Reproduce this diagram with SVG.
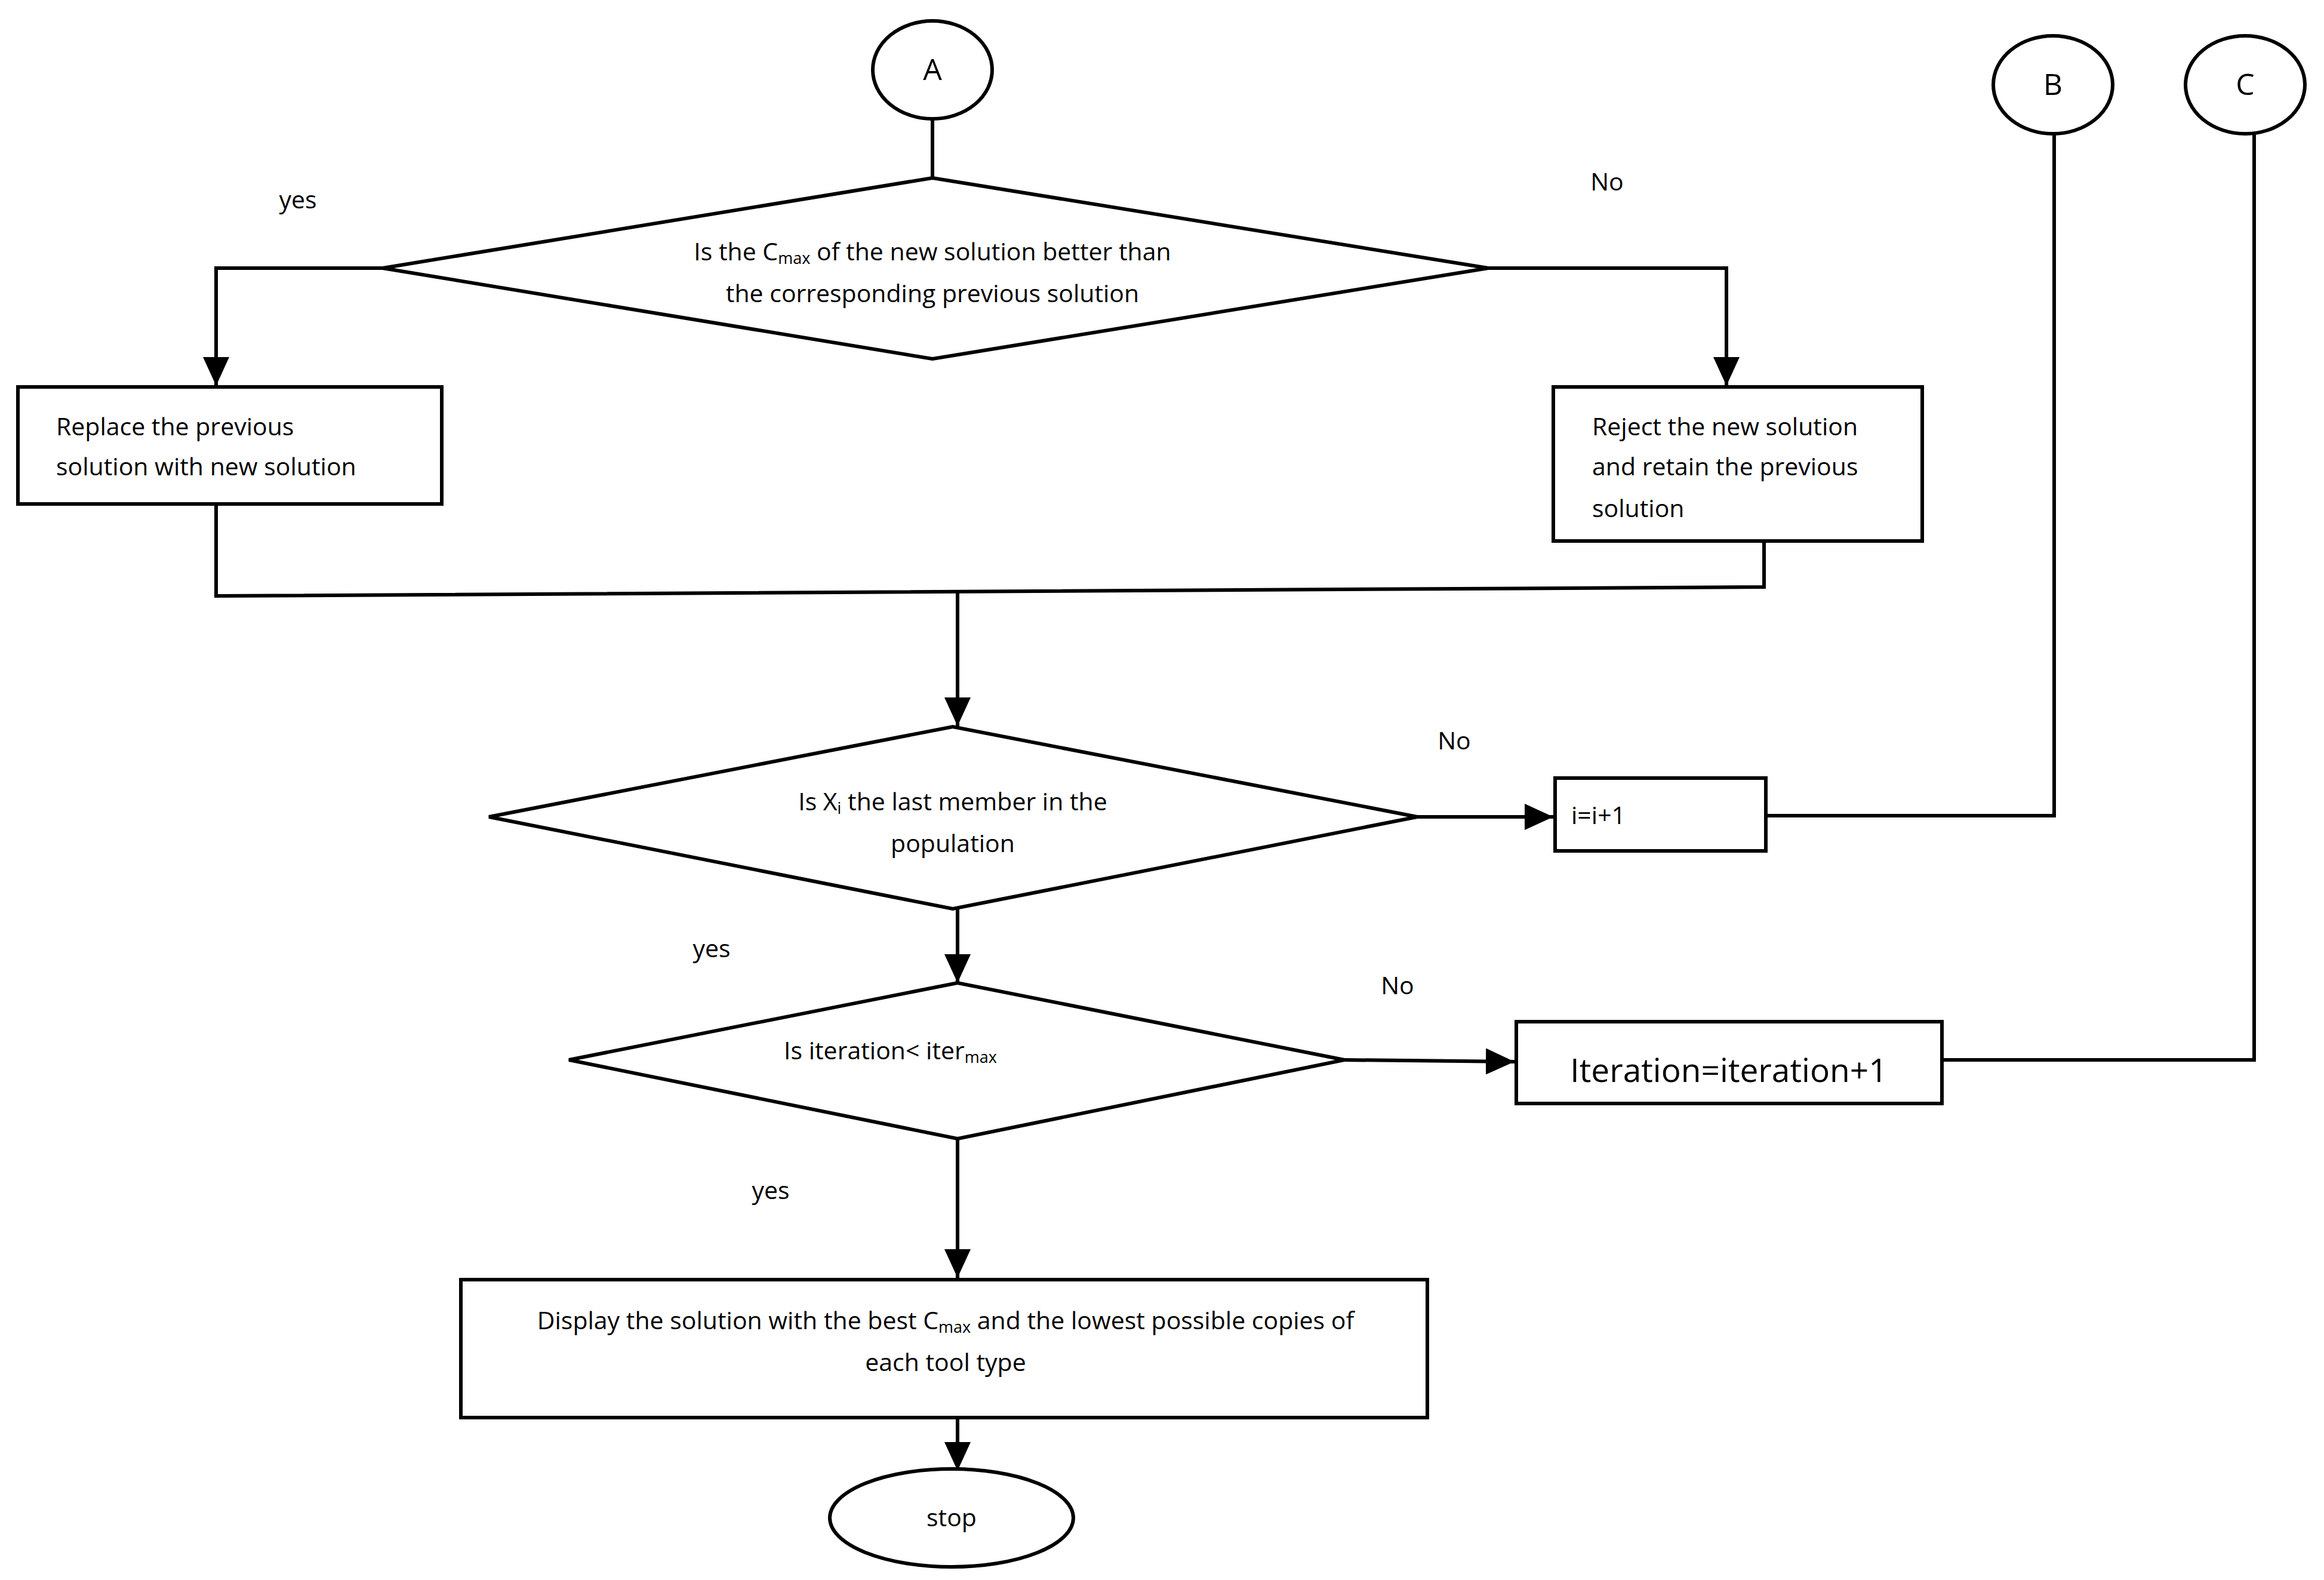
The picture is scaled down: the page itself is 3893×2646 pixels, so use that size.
<svg xmlns="http://www.w3.org/2000/svg" width="3893" height="2646" viewBox="0 0 3893 2646">
<style>
.s{fill:#fff;stroke:#000;stroke-width:6}
.l{fill:none;stroke:#000;stroke-width:6}
.a{marker-end:url(#ar)}
text{font-family:"Open Sans","Liberation Sans",sans-serif;font-size:41px;fill:#000}
.c{text-anchor:middle}
.sub{font-size:27px}
</style>
<defs>
<marker id="ar" markerUnits="userSpaceOnUse" markerWidth="50" markerHeight="44" refX="48" refY="22" orient="auto">
<path d="M0,0 L48,22 L0,44 Z" fill="#000"/>
</marker>
</defs>
<rect width="3893" height="2646" fill="#fff"/>
<g id="connectors">
<line class="l" x1="1562" y1="199" x2="1562" y2="298"/>
<polyline class="l a" points="641,449 362,449 362,646"/>
<polyline class="l a" points="2493,449 2892,449 2892,646"/>
<polyline class="l" points="362,844 362,998 2955,983 2955,906"/>
<line class="l a" x1="1604" y1="988" x2="1604" y2="1216"/>
<line class="l a" x1="2374" y1="1368" x2="2602" y2="1368"/>
<polyline class="l" points="2958,1366 3441,1366 3441,224"/>
<polyline class="l" points="3776,224 3776,1775 3255,1775"/>
<line class="l a" x1="1604" y1="1522" x2="1604" y2="1646"/>
<line class="l a" x1="2252" y1="1775" x2="2537" y2="1778"/>
<line class="l a" x1="1604" y1="1907" x2="1604" y2="2140"/>
<line class="l a" x1="1604" y1="2374" x2="1604" y2="2463"/>
</g>
<g id="labels">
<text x="499" y="349" class="c">yes</text>
<text x="2692" y="319" class="c">No</text>
<text x="2436" y="1255" class="c">No</text>
<text x="1192" y="1603" class="c">yes</text>
<text x="2341" y="1665" class="c">No</text>
<text x="1291" y="2008" class="c">yes</text>
</g>
<g id="A"><ellipse class="s" cx="1562" cy="117" rx="100" ry="82"/><text x="1562" y="134" class="c" font-size="50" style="font-size:50px">A</text></g>
<g id="B"><ellipse class="s" cx="3439" cy="142" rx="100" ry="82"/><text x="3439" y="159" class="c" style="font-size:50px">B</text></g>
<g id="C"><ellipse class="s" cx="3761" cy="142" rx="100" ry="82"/><text x="3761" y="159" class="c" style="font-size:50px">C</text></g>
<g id="d1"><polygon class="s" points="641,449 1562,298 2493,449 1562,601"/>
<text x="1562" y="436" class="c">Is the C<tspan class="sub" dy="6">max</tspan><tspan dy="-6"> of the new solution better than</tspan></text>
<text x="1562" y="506" class="c">the corresponding previous solution</text></g>
<g id="replace"><rect class="s" x="30" y="648" width="710" height="196"/>
<text x="94" y="729">Replace the previous</text><text x="94" y="796">solution with new solution</text></g>
<g id="reject"><rect class="s" x="2602" y="648" width="618" height="258"/>
<text x="2667" y="729">Reject the new solution</text><text x="2667" y="796">and retain the previous</text><text x="2667" y="866">solution</text></g>
<g id="d2"><polygon class="s" points="819,1368 1596,1217 2374,1368 1596,1522"/>
<text x="1596" y="1357" class="c">Is X<tspan class="sub" dy="6">i</tspan><tspan dy="-6"> the last member in the</tspan></text>
<text x="1596" y="1427" class="c">population</text></g>
<g id="inc"><rect class="s" x="2605" y="1303" width="353" height="122"/><text x="2632" y="1380">i=i+1</text></g>
<g id="d3"><polygon class="s" points="953,1775 1604,1646 2252,1775 1604,1907"/>
<text x="1313" y="1774">Is iteration&lt; iter<tspan class="sub" dy="6">max</tspan></text></g>
<g id="iter"><rect class="s" x="2540" y="1711" width="713" height="137"/><text x="2896" y="1812" class="c" style="font-size:55px">Iteration=iteration+1</text></g>
<g id="display"><rect class="s" x="772" y="2143" width="1619" height="231"/>
<text x="1584" y="2226" class="c">Display the solution with the best  C<tspan class="sub" dy="6">max</tspan><tspan dy="-6"> and the lowest possible copies of</tspan></text>
<text x="1584" y="2296" class="c">each tool type</text></g>
<g id="stop"><ellipse class="s" cx="1594" cy="2542" rx="204" ry="82"/><text x="1594" y="2556" class="c">stop</text></g>
</svg>
